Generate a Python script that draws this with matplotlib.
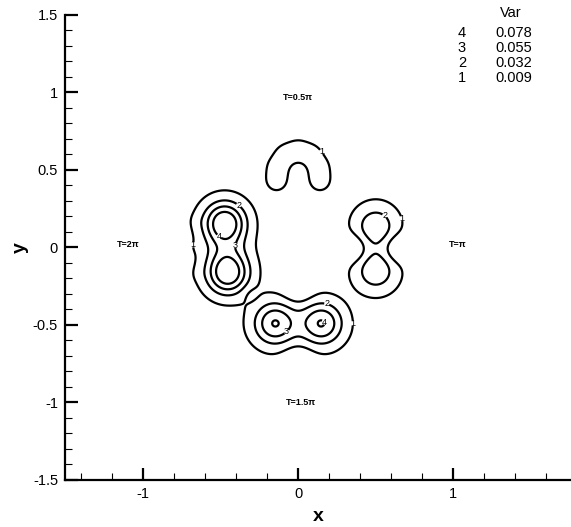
import numpy as np
import matplotlib
matplotlib.use("Agg")
import matplotlib.pyplot as plt
from matplotlib.ticker import MultipleLocator, FuncFormatter

plt.rcParams['font.family'] = ['Liberation Sans', 'DejaVu Sans']

# Contour levels and their legend indices
level_ids = [4, 3, 2, 1]
level_vals = [0.078, 0.055, 0.032, 0.009]

# Gaussian blobs building the Var field: centre, amplitude, widths
blob_x = [-0.475, -0.455, -0.465, -0.31, -0.655, -0.67, -0.645,
          0.50, 0.50, 0.36, 0.64,
          -0.14, -0.135, -0.085, 0.0, 0.085, 0.135, 0.14,
          -0.15, 0.15, 0.0, 0.0]
blob_y = [0.16, -0.165, 0.0, -0.30, 0.17, 0.0, -0.17,
          0.135, -0.15, -0.007, -0.007,
          0.43, 0.52, 0.60, 0.63, 0.60, 0.52, 0.43,
          -0.49, -0.49, -0.28, -0.72]
blob_a = [0.10, 0.10, 0.02, -0.008, 0.003, 0.003, 0.003,
          0.05, 0.05, -0.025, -0.025,
          0.018, 0.017, 0.016, 0.016, 0.016, 0.017, 0.018,
          0.079, 0.079, -0.015, -0.015]
blob_sx = [0.095, 0.095, 0.10, 0.04, 0.035, 0.035, 0.035,
           0.095, 0.095, 0.06, 0.06,
           0.05, 0.05, 0.05, 0.05, 0.05, 0.05, 0.05,
           0.097, 0.097, 0.07, 0.07]
blob_sy = [0.095, 0.095, 0.10, 0.04, 0.035, 0.035, 0.035,
           0.095, 0.095, 0.06, 0.06,
           0.05, 0.05, 0.05, 0.05, 0.05, 0.05, 0.05,
           0.097, 0.097, 0.06, 0.06]

# Phase annotations
phase_text = ["T=0.5\u03c0", "T=\u03c0", "T=1.5\u03c0", "T=2\u03c0"]
phase_x = [0.0, 1.03, 0.02, -1.1]
phase_y = [0.97, 0.02, -1.0, 0.02]

# Contour label anchor points
label_x = [-0.72, -0.37, -0.52, -0.39, 0.155, 0.57, 0.68, 0.19, 0.35, 0.17, -0.07]
label_y = [0.02, 0.29, 0.06, 0.01, 0.62, 0.22, 0.19, -0.34, -0.49, -0.48, -0.55]

xs = np.linspace(-1.55, 1.8, 700)
ys = np.linspace(-1.55, 1.55, 650)
X, Y = np.meshgrid(xs, ys)
Z = np.zeros_like(X)
for cx, cy, a, sx, sy in zip(blob_x, blob_y, blob_a, blob_sx, blob_sy):
    Z += a * np.exp(-((X - cx) ** 2 / (2 * sx ** 2) + (Y - cy) ** 2 / (2 * sy ** 2)))

fig = plt.figure(figsize=(5.71, 5.27), dpi=100)
ax = fig.add_axes([0.1138, 0.0892, 0.8862, 0.8824])

levels = sorted(level_vals)
cs = ax.contour(X, Y, Z, levels=levels, colors='black', linewidths=1.6)
fmt = {v: str(i) for v, i in zip(level_vals, level_ids)}
labels = ax.clabel(cs, fmt=fmt, fontsize=6.5, inline=True, inline_spacing=0,
                   manual=list(zip(label_x, label_y)))
for t in labels:
    t.set_rotation(0)

for t, x, y in zip(phase_text, phase_x, phase_y):
    ax.text(x, y, t, fontsize=6.5, fontweight='bold', ha='center', va='center')

ax.set_xlim(-1.505, 1.76)
ax.set_ylim(-1.5, 1.5)

for side in ['top', 'right']:
    ax.spines[side].set_visible(False)
for side in ['left', 'bottom']:
    ax.spines[side].set_linewidth(1.6)

ax.xaxis.set_major_locator(MultipleLocator(1))
ax.xaxis.set_minor_locator(MultipleLocator(0.2))
ax.yaxis.set_major_locator(MultipleLocator(0.5))
ax.yaxis.set_minor_locator(MultipleLocator(0.1))
ax.xaxis.set_major_formatter(FuncFormatter(lambda v, p: f"{v:g}"))
ax.yaxis.set_major_formatter(FuncFormatter(lambda v, p: f"{v:g}"))
ax.tick_params(which='major', direction='in', length=9, width=1.6, labelsize=10.5, pad=5)
ax.tick_params(which='minor', direction='in', length=5, width=0.8)

ax.set_xlabel('x', fontsize=14, fontweight='bold', labelpad=5)
ax.set_ylabel('y', fontsize=14, fontweight='bold', labelpad=2.5)

# Level table in the upper right corner
fig.text(0.895, 0.975, 'Var', fontsize=10.5, ha='center', va='center')
for k, (i, v) in enumerate(zip(level_ids, level_vals)):
    yy = 0.937 - k * 0.0285
    fig.text(0.809, yy, str(i), fontsize=10.5, ha='center', va='center')
    fig.text(0.932, yy, f"{v:.3f}", fontsize=10.5, ha='right', va='center')

fig.savefig('out.png', dpi=100)
